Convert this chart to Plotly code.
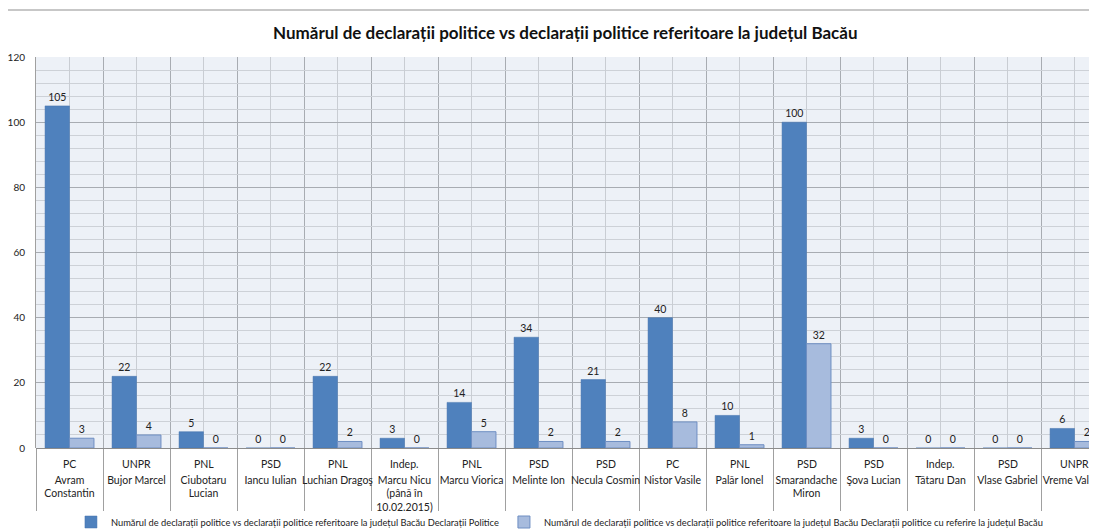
import plotly.graph_objects as go

names = ["Avram<br>Constantin", "Bujor Marcel", "Ciubotaru<br>Lucian", "Iancu Iulian",
         "Luchian Dragoş", "Marcu Nicu<br>(până în<br>10.02.2015)", "Marcu Viorica",
         "Melinte Ion", "Necula Cosmin", "Nistor Vasile", "Palăr Ionel",
         "Smarandache<br>Miron", "Şova Lucian", "Tătaru Dan", "Vlase Gabriel", "Vreme Valeria"]
parties = ["PC", "UNPR", "PNL", "PSD", "PNL", "Indep.", "PNL", "PSD", "PSD", "PC",
           "PNL", "PSD", "PSD", "Indep.", "PSD", "UNPR"]
decl_total = [105, 22, 5, 0, 22, 3, 14, 34, 21, 40, 10, 100, 3, 0, 0, 6]
decl_bacau = [3, 4, 0, 0, 2, 0, 5, 2, 2, 8, 1, 32, 0, 0, 0, 2]

series1_name = "Numărul de declarații politice vs declarații politice referitoare la județul Bacău Declarații Politice"
series2_name = "Numărul de declarații politice vs declarații politice referitoare la județul Bacău Declarații politice cu referire la județul Bacău"
title = "Numărul de declarații politice vs declarații politice referitoare la județul Bacău"

FONT = "Lato"
xs = list(range(len(names)))

# page body has an 8px margin, so the figure layout is offset by -8px
PLOT_TOP, PLOT_BOTTOM, PLOT_LEFT = 49, 440, 28
PLOT_H = PLOT_BOTTOM - PLOT_TOP

fig = go.Figure()
fig.add_trace(go.Bar(
    x=xs, y=decl_total, name=series1_name,
    marker=dict(color="#4F81BD", line=dict(color="#4573AC", width=0.5)),
    text=decl_total, textposition="outside", cliponaxis=False,
    textfont=dict(size=10.5, color="#222222", family=FONT),
))
fig.add_trace(go.Bar(
    x=xs, y=decl_bacau, name=series2_name,
    marker=dict(color="#A7BBDD", line=dict(color="#6E8EC2", width=1)),
    text=decl_bacau, textposition="outside", cliponaxis=False,
    textfont=dict(size=10.5, color="#222222", family=FONT),
))

for i, p in enumerate(parties):
    fig.add_annotation(x=xs[i], xref="x", y=0, yref="paper", yanchor="middle",
                       yshift=-16, text=p, showarrow=False,
                       font=dict(size=10.5, color="#222222", family=FONT))

# top rule
fig.add_shape(type="line", xref="paper", yref="paper", x0=-0.03, x1=1.01,
              y0=(PLOT_BOTTOM - 2) / PLOT_H, y1=(PLOT_BOTTOM - 2) / PLOT_H,
              line=dict(color="#B5B5B5", width=1.5))

fig.update_layout(
    width=1097, height=531,
    margin=dict(l=PLOT_LEFT, r=0, t=PLOT_TOP, b=531 - PLOT_BOTTOM, autoexpand=False),
    paper_bgcolor="white", plot_bgcolor="#EDF1F7",
    barmode="group", bargap=0.27, bargroupgap=0,
    font=dict(family=FONT, size=10, color="#222222"),
    title=dict(text="<b>" + title + "</b>", x=0.508, xanchor="center",
               xref="container", yref="container",
               y=1 - 25 / 531, yanchor="middle",
               font=dict(size=17, family=FONT, color="#111111")),
    legend=dict(orientation="h", x=0.0327, xanchor="left",
                y=(PLOT_BOTTOM - 514) / PLOT_H, yanchor="middle",
                font=dict(size=9.3, family=FONT, color="#222222"),
                itemwidth=30, bgcolor="rgba(0,0,0,0)"),
    xaxis=dict(
        range=[-0.5, 15.455], tickmode="array", tickvals=xs, ticktext=names,
        ticks="", showgrid=True, gridcolor="#C9CDD3", gridwidth=1,
        zeroline=False, showline=False, automargin=False,
        ticklabeloverflow="allow",
        tickfont=dict(size=10.5, family=FONT, color="#222222"),
        ticklabelstandoff=24,
        minor=dict(tickmode="array", tickvals=[i - 0.5 for i in range(len(names) + 1)],
                   ticks="outside", ticklen=62, tickcolor="#A0A0A0", tickwidth=1,
                   showgrid=True, gridcolor="#A8ACB2", gridwidth=1),
    ),
    yaxis=dict(
        range=[0, 120], dtick=20, tick0=0, showgrid=True, gridcolor="#A8ACB2",
        gridwidth=1, zeroline=True, zerolinecolor="#8C8C8C", zerolinewidth=1,
        ticks="", ticklabelstandoff=8, showline=True, linecolor="#A0A0A0",
        automargin=False,
        tickfont=dict(size=10, family=FONT, color="#222222"),
        minor=dict(dtick=4, tick0=0, showgrid=True, gridcolor="#CDD1D7", gridwidth=1),
    ),
)

fig.write_html("out.html")
